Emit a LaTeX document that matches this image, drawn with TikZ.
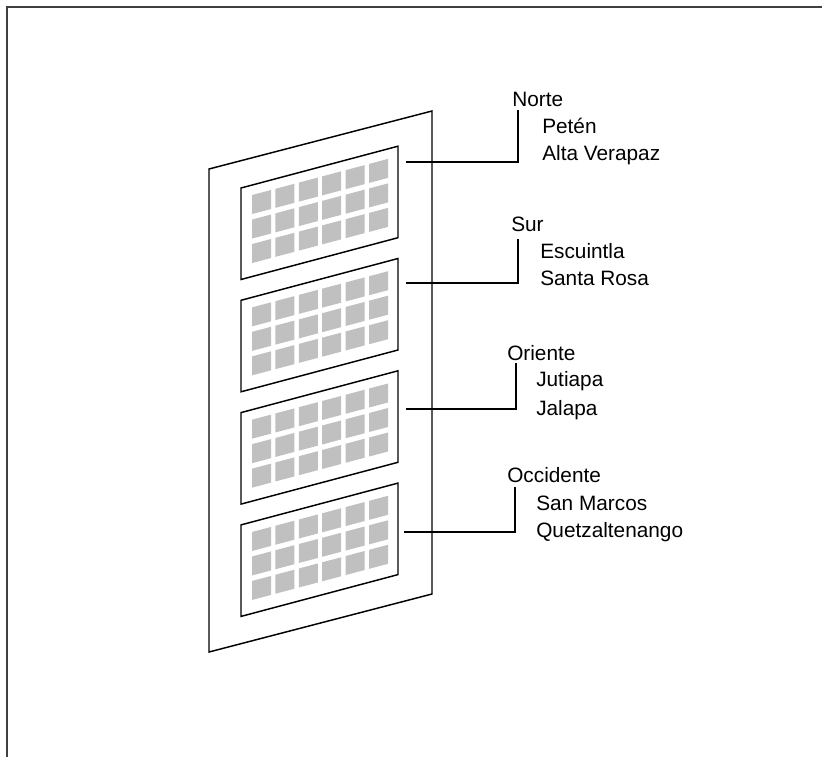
\documentclass[tikz,border=0pt]{standalone}
\usepackage{fontspec}
\setmainfont{Liberation Sans}
\definecolor{cellgray}{HTML}{C0C0C0}
\definecolor{framegray}{HTML}{404040}
\begin{document}
\begin{tikzpicture}[x=0.75pt,y=-0.75pt,
  lbl/.style={inner sep=0pt,anchor=base west,font=\fontsize{15.6}{18}\selectfont},
  edge/.style={line width=1.1pt,line join=miter},
  conn/.style={line width=1pt},
  cell/.style={fill=cellgray,draw=none}]
\useasboundingbox (0,0) rectangle (822,757);
% window frame
\draw[line width=1.5pt,framegray] (7,757) -- (7,7) -- (822,7);
% outer board
\draw[edge] (209,169) -- (432,111) -- (432,594) -- (209,652) -- cycle;
% panels
\foreach \k in {0,1,2,3}{
  \pgfmathsetmacro\T{188+112.3*\k}
  \draw[edge] (241,\T) -- (398,{\T-41.8}) -- (398,{\T+49.7}) -- (241,{\T+91.5}) -- cycle;
  \foreach \j in {0,...,5}{
    \foreach \i in {0,1,2}{
      \pgfmathsetmacro\xa{252+23.4*\j}
      \pgfmathsetmacro\xb{\xa+19}
      \pgfmathsetmacro\oa{\T+10+24.5*\i}
      \fill[cell] (\xa,{\oa-0.266*(\xa-241)}) -- (\xb,{\oa-0.266*(\xb-241)})
        -- (\xb,{\oa+19-0.266*(\xb-241)}) -- (\xa,{\oa+19-0.266*(\xa-241)}) -- cycle;
    }
  }
}
% labels
\node[lbl] (norte) at (512,106) {Norte};
\node[lbl] (peten) at (542,133.3) {Petén};
\node[lbl] (alta) at (542,160.7) {Alta Verapaz};
\node[lbl] (sur) at (511,231) {Sur};
\node[lbl] (escuintla) at (540,258.3) {Escuintla};
\node[lbl] (santarosa) at (540,285) {Santa Rosa};
\node[lbl] (oriente) at (507,360) {Oriente};
\node[lbl] (jutiapa) at (536,386.7) {Jutiapa};
\node[lbl] (jalapa) at (536,415) {Jalapa};
\node[lbl] (occidente) at (507,482.7) {Occidente};
\node[lbl] (sanmarcos) at (536,510) {San Marcos};
\node[lbl] (quetzal) at (536,537.3) {Quetzaltenango};
% connector end points
\coordinate (s1) at (406,162); \coordinate (t1) at (518,110);
\coordinate (s2) at (406,283); \coordinate (t2) at (518,239);
\coordinate (s3) at (406,409); \coordinate (t3) at (516,363);
\coordinate (s4) at (404,532); \coordinate (t4) at (515,487);
\foreach \n in {1,2,3,4}{
  \draw[conn] (s\n) -- (s\n -| t\n) -- (t\n);
}
\end{tikzpicture}
\end{document}
